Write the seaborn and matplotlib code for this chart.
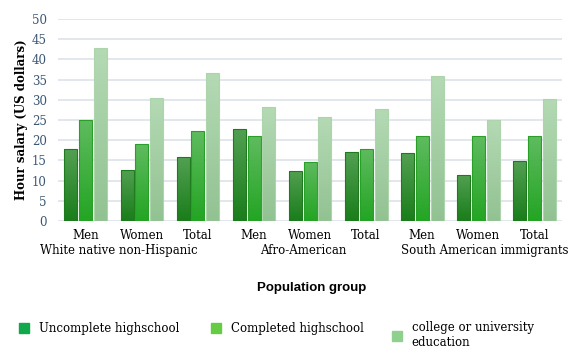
import numpy as np
import pandas as pd
import seaborn as sns
import matplotlib.pyplot as plt
from matplotlib.colors import LinearSegmentedColormap
from matplotlib.lines import Line2D

# data
groups = ["White native non-Hispanic", "Afro-American", "South American immigrants"]
sexes = ["Men", "Women", "Total"]
levels = ["Uncomplete highschool", "Completed highschool", "college or university\neducation"]
uncomplete = [17.8, 12.7, 15.8, 22.8, 12.4, 17.2, 16.8, 11.4, 14.9]
completed = [25.1, 19.0, 22.4, 21.0, 14.7, 17.9, 21.0, 21.0, 21.0]
college = [42.9, 30.4, 36.6, 28.2, 25.7, 27.7, 35.8, 25.0, 30.3]
legend_colors = ["#10a84a", "#66cc44", "#8fd08f"]

rows = []
for i, g in enumerate(groups):
    for j, s in enumerate(sexes):
        k = i * 3 + j
        for lev, vals in zip(levels, [uncomplete, completed, college]):
            rows.append({"cat": g + "|" + s, "sex": s, "level": lev, "salary": vals[k]})
df = pd.DataFrame(rows)

sns.set_style("white")
plt.rcParams["font.family"] = ["DejaVu Serif"]
plt.rcParams["text.color"] = "black"
plt.rcParams["axes.labelcolor"] = "black"
plt.rcParams["xtick.color"] = "black"

fig = plt.figure(figsize=(5.79, 3.52), dpi=100)
ax = fig.add_axes([0.100, 0.372, 0.871, 0.574])

sns.barplot(data=df, x="cat", y="salary", hue="level", hue_order=levels,
            width=0.8, gap=0.13, ax=ax, legend=False, errorbar=None,
            palette=["#1a7f1a", "#2aa82a", "#9fcc9f"])

# gradient fills (top lighter, bottom darker)
grad = {
    0: ("#1a7d1a", "#52a052", "#1f7a1f"),
    1: ("#23a523", "#5fbb5f", "#28a028"),
    2: ("#92c292", "#b4dab4", "#aed4ae"),
}
n_cat = len(uncomplete)
for idx, bar in enumerate(ax.patches):
    h_i = idx // n_cat
    bot, top, edge = grad[h_i]
    cmap = LinearSegmentedColormap.from_list("g%d" % h_i, [bot, top])
    x, y = bar.get_x(), bar.get_y()
    w, h = bar.get_width(), bar.get_height()
    img = ax.imshow(np.linspace(0, 1, 100).reshape(-1, 1), cmap=cmap, origin="lower",
                    extent=[x, x + w, y, y + h], aspect="auto", zorder=2)
    img.set_clip_path(bar)
    bar.set_facecolor("none")
    bar.set_edgecolor(edge)
    bar.set_linewidth(0.8)
    bar.set_zorder(3)

ax.set_xlim(-0.5, 8.5)
ax.set_ylim(0, 50)
ax.set_yticks(range(0, 51, 5))
ax.grid(axis="y", color="#dfe5ec", linewidth=1.3, zorder=0)
ax.set_axisbelow(True)
sns.despine(ax=ax, left=True, bottom=True)
ax.tick_params(axis="both", length=0, labelsize=8.5)
ax.tick_params(axis="y", labelcolor="#3b5775", pad=8)
ax.tick_params(axis="x", labelcolor="black", pad=6)
ax.set_xticks(range(n_cat))
ax.set_xticklabels(sexes * 3)
ax.set_xlabel("")
ax.set_ylabel("Hour salary (US dollars)", fontsize=8.5, fontweight="bold", labelpad=3)

# group labels under the tick labels
for xpos, g in zip([0.59, 3.875, 7.11], groups):
    ax.text(xpos, -0.145, g, transform=ax.get_xaxis_transform(), ha="center", va="center",
            fontsize=8.5)

fig.text(0.539, 0.182, "Population group", ha="center", va="center", fontsize=9.5,
         fontweight="bold", family="Liberation Sans")

# legend: one entry per block so the two-line label keeps its own placement
legend_pos = [(0.013, 0.066), (0.345, 0.066), (0.657, 0.047)]
for lev, col, (lx, ly) in zip(levels, legend_colors, legend_pos):
    h = Line2D([], [], marker="s", linestyle="", markersize=7, color=col)
    fig.legend([h], [lev], loc="center left", bbox_to_anchor=(lx, ly),
               frameon=False, fontsize=8.5, handletextpad=0.75, handlelength=1.0)

fig.savefig("out.png", dpi=100)
